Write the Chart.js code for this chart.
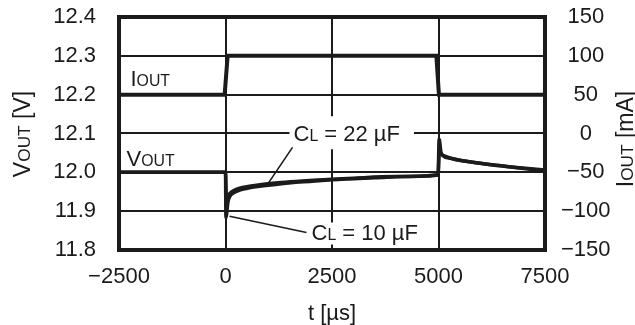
<!DOCTYPE html>
<html>
<head>
<meta charset="utf-8">
<script src="https://cdn.jsdelivr.net/npm/chart.js@4/dist/chart.umd.min.js"></script>
<style>
  html, body { margin: 0; padding: 0; background: #fff; }
  canvas { display: block; }
</style>
</head>
<body>
<canvas id="chart" width="635" height="325" style="width:635px;height:325px"></canvas>
<script>
// ---------------------------------------------------------------------------
//  Data
// ---------------------------------------------------------------------------

// load current step, right axis (mA)
const ioutTimeUs = [-2500, -20, 50, 4950, 5010, 7500];
const ioutMa     = [50, 50, 100, 100, 50, 50];

// output voltage, CL = 10 uF (left axis, V)
const v10TimeUs = [-2500, 0, 10, 60, 100, 200, 350, 560, 800, 1270, 1740, 2200, 2500,
                   3500, 4500, 4990, 5015, 5060, 5100, 5330, 5730, 6130, 6600, 7000, 7500];
const v10Volt   = [12.0, 12.0, 11.884, 11.925, 11.938, 11.948, 11.955, 11.960, 11.964, 11.970,
                   11.975, 11.978, 11.981, 11.986, 11.990, 11.993, 12.085, 12.050, 12.043,
                   12.035, 12.027, 12.021, 12.015, 12.010, 12.004];

// output voltage, CL = 22 uF
const v22TimeUs = [-2500, 0, 20, 70, 150, 250, 400, 600, 850, 1300, 1800, 2300, 3000, 4000,
                   4990, 5020, 5080, 5200, 5400, 5800, 6200, 6700, 7100, 7500];
const v22Volt   = [12.0, 12.0, 11.935, 11.942, 11.950, 11.956, 11.961, 11.965, 11.969, 11.974,
                   11.978, 11.981, 11.985, 11.989, 11.994, 12.055, 12.046, 12.040, 12.033,
                   12.026, 12.020, 12.014, 12.010, 12.006];

// axes
const timeTicks = { min: -2500, max: 7500, step: 2500 };
const voltTicks = { min: 11.8, max: 12.4, step: 0.1 };
const currTicks = { min: -150, max: 150, step: 50 };

// ---------------------------------------------------------------------------
//  Style
// ---------------------------------------------------------------------------

const INK  = '#1b1b1b';
const FONT = '"Liberation Sans", Arial, Helvetica, sans-serif';
const TICK_SIZE  = 22;
const NOTE_SIZE  = 22;
const TITLE_SIZE = 23;
const SUB = 0.72;   // small caps subscript ratio

// in-plot notes, anchored at (t, V): text left / baseline
const notes = [
  { parts: [['I', 1], ['OUT', SUB]],                 t: -2230, v: 12.2216 },
  { parts: [['V', 1], ['OUT', SUB]],                 t: -2324, v: 12.0155 },
  { parts: [['C', 1], ['L', SUB], [' = 22 \u00b5F', 1]], t: 1596, v: 12.080, box: [4, 14, 25, 8] },
  { parts: [['C', 1], ['L', SUB], [' = 10 \u00b5F', 1]], t: 2019, v: 11.827, box: [4, 12, 17, 5] },
];
// leader lines [t1, v1, t2, v2]
const leaders = [
  [1573, 12.0644, 986, 11.969],
  [94, 11.887, 1901, 11.845],
];

// ---------------------------------------------------------------------------
//  Helpers
// ---------------------------------------------------------------------------

const zip = (xs, ys) => xs.map((x, i) => ({ x, y: ys[i] }));
const fmtMinus = v => (v < 0 ? '\u2212' + Math.abs(v) : String(v));

function partsWidth(ctx, parts, size) {
  let w = 0;
  parts.forEach(([txt, k]) => { ctx.font = `${size * k}px ${FONT}`; w += ctx.measureText(txt).width; });
  return w;
}

function drawParts(ctx, parts, size, x, y) {
  ctx.textAlign = 'left';
  ctx.textBaseline = 'alphabetic';
  parts.forEach(([txt, k]) => {
    ctx.font = `${size * k}px ${FONT}`;
    ctx.fillText(txt, x, y);
    x += ctx.measureText(txt).width;
  });
}

function drawTitle(ctx, parts, size, baseX, cy) {
  // rotated -90deg, reads bottom to top; baseline at screen x = baseX
  ctx.save();
  ctx.translate(baseX, cy);
  ctx.rotate(-Math.PI / 2);
  const w = partsWidth(ctx, parts, size);
  drawParts(ctx, parts, size, -w / 2, 0);
  ctx.restore();
}

// keep the plot box fixed: no extra label padding from the scales
function fixBox(prop, size) {
  return s => {
    s[prop] = size;
    s.paddingTop = 0; s.paddingBottom = 0; s.paddingLeft = 0; s.paddingRight = 0;
  };
}

// ---------------------------------------------------------------------------
//  Plugin: label boxes, notes, leaders, frame, titles
// ---------------------------------------------------------------------------

const decorations = {
  id: 'decorations',
  beforeDatasetsDraw(chart) {
    const { ctx } = chart;
    const sx = chart.scales.x, sy = chart.scales.y;
    ctx.save();
    ctx.fillStyle = '#fff';
    notes.filter(n => n.box).forEach(n => {
      const px = sx.getPixelForValue(n.t), py = sy.getPixelForValue(n.v);
      const w = partsWidth(ctx, n.parts, NOTE_SIZE);
      const [l, r, t, b] = n.box;
      ctx.fillRect(px - l, py - t, w + l + r, t + b);
    });
    ctx.restore();
  },
  afterDatasetsDraw(chart) {
    const { ctx, chartArea: a } = chart;
    const sx = chart.scales.x, sy = chart.scales.y;
    ctx.save();
    ctx.fillStyle = INK;
    ctx.strokeStyle = INK;

    notes.forEach(n => {
      drawParts(ctx, n.parts, NOTE_SIZE, sx.getPixelForValue(n.t), sy.getPixelForValue(n.v));
    });

    ctx.lineWidth = 1.6;
    leaders.forEach(([t1, v1, t2, v2]) => {
      ctx.beginPath();
      ctx.moveTo(sx.getPixelForValue(t1), sy.getPixelForValue(v1));
      ctx.lineTo(sx.getPixelForValue(t2), sy.getPixelForValue(v2));
      ctx.stroke();
    });

    // frame
    ctx.lineWidth = 4;
    ctx.strokeRect(a.left, a.top, a.right - a.left, a.bottom - a.top);

    // axis titles
    drawTitle(ctx, [['V', 1], ['OUT', 0.75], [' [V]', 1]], TITLE_SIZE, 30, 134);
    drawTitle(ctx, [['I', 1], ['OUT', 0.75], [' [mA]', 1]], TITLE_SIZE, 633, 139);
    ctx.font = `${TITLE_SIZE - 1}px ${FONT}`;
    ctx.textAlign = 'center';
    ctx.textBaseline = 'alphabetic';
    ctx.fillText('t [\u00b5s]', (a.left + a.right) / 2, 320);
    ctx.restore();
  },
};

// ---------------------------------------------------------------------------
//  Chart
// ---------------------------------------------------------------------------

const tickFont = { family: FONT, size: TICK_SIZE };
const lineBase = { borderColor: INK, pointRadius: 0, fill: false };

new Chart(document.getElementById('chart'), {
  type: 'line',
  data: {
    datasets: [
      { ...lineBase, label: 'IOUT', data: zip(ioutTimeUs, ioutMa), yAxisID: 'y1',
        borderWidth: 4, tension: 0, borderJoinStyle: 'miter' },
      { ...lineBase, label: 'CL = 22 uF', data: zip(v22TimeUs, v22Volt), yAxisID: 'y',
        borderWidth: 3.5, cubicInterpolationMode: 'monotone' },
      { ...lineBase, label: 'CL = 10 uF', data: zip(v10TimeUs, v10Volt), yAxisID: 'y',
        borderWidth: 3.5, cubicInterpolationMode: 'monotone' },
    ],
  },
  options: {
    responsive: false,
    animation: false,
    devicePixelRatio: 1,
    layout: { padding: { top: 17, left: 0, right: 0, bottom: 0 } },
    plugins: { legend: { display: false }, tooltip: { enabled: false } },
    scales: {
      x: {
        type: 'linear', min: timeTicks.min, max: timeTicks.max,
        ticks: { stepSize: timeTicks.step, font: tickFont, color: INK, padding: 14,
                 maxRotation: 0, callback: fmtMinus },
        grid: { color: INK, lineWidth: 2, drawTicks: false },
        border: { display: false },
        afterFit: fixBox('height', 75),
      },
      y: {
        position: 'left', min: voltTicks.min, max: voltTicks.max,
        ticks: { stepSize: voltTicks.step, font: tickFont, color: INK, padding: 23,
                 callback: v => v.toFixed(1) },
        grid: { color: INK, lineWidth: 2, drawTicks: false },
        border: { display: false },
        afterFit: fixBox('width', 119),
      },
      y1: {
        position: 'right', min: currTicks.min, max: currTicks.max,
        ticks: { stepSize: currTicks.step, font: tickFont, color: INK, padding: 16,
                 crossAlign: 'center', callback: fmtMinus },
        grid: { display: false, drawTicks: false },
        border: { display: false },
        afterFit: fixBox('width', 90),
      },
    },
  },
  plugins: [decorations],
});
</script>
</body>
</html>
